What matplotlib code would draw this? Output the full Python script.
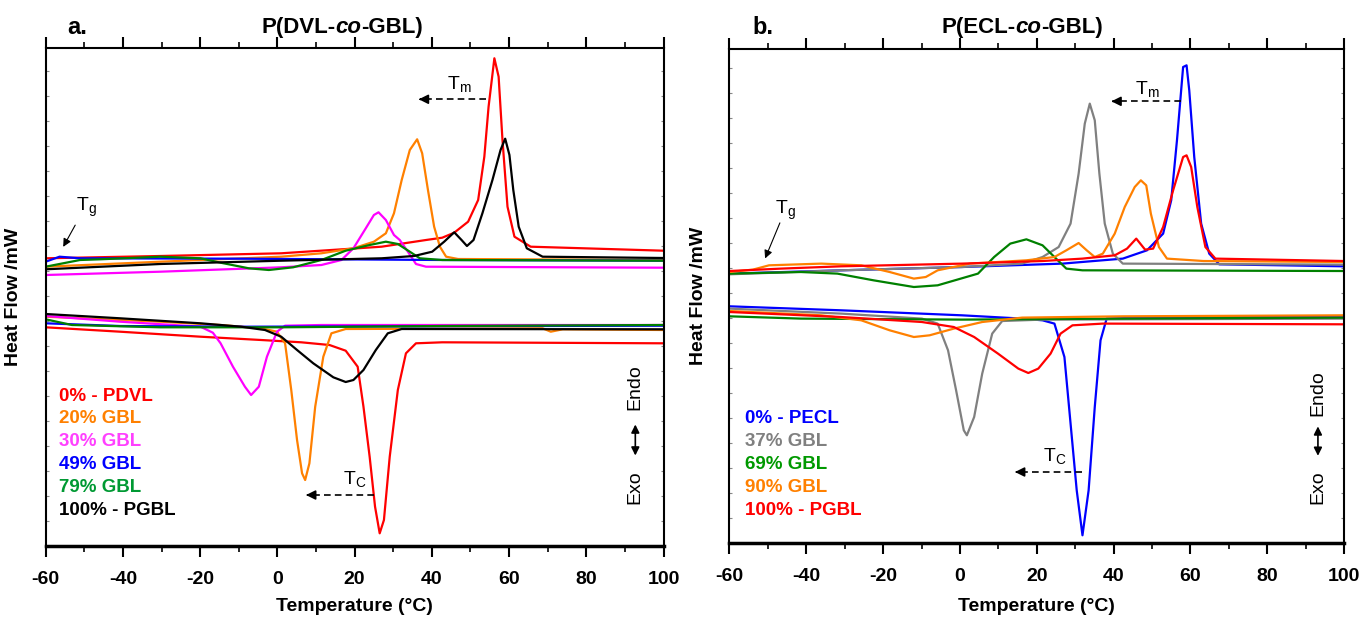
import matplotlib
matplotlib.use('Agg')
import matplotlib.pyplot as plt
import numpy as np

plt.rcParams['font.family'] = ['Liberation Sans', 'DejaVu Sans']
plt.rcParams['axes.unicode_minus'] = False
plt.rcParams['mathtext.fontset'] = 'custom'
plt.rcParams['mathtext.rm'] = 'Liberation Sans'

# ---- panel a: P(DVL-co-GBL), (temperature, heat flow a.u.) ----
a_labels = ['0% - PDVL', '20% GBL', '30% GBL', '49% GBL', '79% GBL', '100% - PGBL']
a_colors = ['#ff0000', '#ff8000', '#ff00ff', '#0000ff', '#008000', '#000000']
a_text_colors = ['#ff0000', '#ff8000', '#ff40ff', '#0000ff', '#009933', '#000000']

a_heat_0 = [(-60, 287.7), (-30.3, 290), (1.0, 292.7), (27.0, 299.3), (38.5, 306), (42.7, 308.3),
            (45.8, 313.3), (49.4, 324.3), (52.0, 346), (53.6, 389.3), (54.7, 439.3), (56.2, 487.7),
            (57.3, 469.3), (58.3, 406), (59.6, 339.3), (61.4, 309.3), (65.6, 299.3), (100, 295.3)]
a_heat_20 = [(-60, 279.3), (-30.3, 284.3), (1.0, 289.3), (11.4, 292.7), (19.7, 297.7), (25.0, 304.3),
             (28.1, 312.7), (30.2, 332.7), (32.2, 366), (34.3, 396), (36.2, 406.7), (37.5, 392.7),
             (39.0, 356), (40.6, 319.3), (42.1, 299.3), (43.7, 289.3), (46.8, 287), (100, 286)]
a_heat_30 = [(-60, 271), (-30.3, 274.3), (1.0, 278.7), (11.4, 281), (16.6, 286), (19.7, 297.7),
             (22.9, 317.7), (25.0, 331), (26.2, 333.7), (28.1, 326), (30.2, 311), (31.7, 306),
             (33.8, 294.3), (35.9, 282), (38.5, 279.3), (100, 278.3)]
a_heat_49 = [(-60, 284.3), (-56.4, 289.3), (-51.1, 287.7), (-9.4, 287.3), (42.7, 286), (100, 285.3)]
a_heat_79 = [(-60, 279.3), (-51.1, 286), (-45.9, 286.7), (-30.3, 289.3), (-19.9, 287.7), (-14.7, 283.3),
             (-7.4, 277.7), (-2.2, 276), (4.1, 278.7), (11.4, 286), (17.7, 295.3), (23.9, 301),
             (28.1, 304.3), (31.2, 302), (34.3, 294.3), (36.9, 287.7), (42.7, 286), (100, 285.3)]
a_heat_100 = [(-60, 276.7), (-30.3, 282), (1.0, 285.3), (27.0, 287.7), (35.4, 290), (40.1, 294.3),
              (43.2, 304.3), (45.8, 313.7), (47.7, 306), (49.1, 300), (50.8, 306), (53.1, 332.7),
              (55.7, 366), (57.8, 396), (59.0, 407.3), (60.1, 391), (61.1, 356), (62.5, 319.3),
              (64.6, 297.7), (68.7, 289.3), (100, 288)]

a_cool_0 = [(-60, 218.7), (-40.7, 214.3), (-19.9, 209.3), (-4.2, 206), (6.2, 203.7), (13.5, 201),
            (17.7, 195.3), (20.8, 179.3), (22.3, 139.3), (23.9, 89.3), (25.3, 39.3), (26.5, 12.7),
            (27.6, 26), (29.1, 89.3), (31.2, 156), (33.3, 192.7), (35.9, 202.7), (42.7, 203.7),
            (100, 202.7)]
a_cool_20 = [(-60, 229.3), (-30.3, 224.3), (-14.7, 221), (-4.2, 217.7), (-0.1, 214.3), (2.0, 202.7),
             (3.6, 156), (5.1, 106), (6.4, 72.7), (7.2, 66), (8.3, 82.7), (9.8, 139.3), (11.9, 189.3),
             (14.0, 212.7), (17.7, 217), (68.7, 217.7), (70.8, 214.3), (73.9, 216.7), (100, 216)]
a_cool_30 = [(-60, 230), (-40.7, 224.3), (-19.9, 219.3), (-16.7, 213.3), (-14.7, 202.7), (-11.5, 179.3),
             (-8.4, 159.3), (-6.8, 151), (-4.8, 159.3), (-2.7, 189.3), (-0.1, 214.3), (2.0, 220.3),
             (11.4, 221), (100, 221)]
a_cool_49 = [(-60, 222.7), (-40.7, 220), (-9.4, 219.3), (100, 220.3)]
a_cool_79 = [(-60, 226.7), (-53.2, 221), (-30.3, 218.7), (1.0, 218.7), (42.7, 220), (100, 221)]
a_cool_100 = [(-60, 232), (-40.7, 227.7), (-19.9, 222.7), (-9.4, 219.3), (-3.2, 216), (1.0, 209.3),
              (5.1, 196), (9.3, 182.7), (14.5, 168.7), (17.7, 164), (19.7, 166), (22.3, 176),
              (25.5, 196), (28.6, 212.7), (32.2, 217), (100, 216.7)]

# ---- panel b: P(ECL-co-GBL) ----
b_labels = ['0% - PECL', '37% GBL', '69% GBL', '90% GBL', '100% - PGBL']
b_colors = ['#0000ff', '#808080', '#008000', '#ff8000', '#ff0000']
b_text_colors = ['#0000ff', '#808080', '#009900', '#ff8000', '#ff0000']

b_heat_0 = [(-60, 269.7), (-30.9, 273), (0.5, 276.3), (26.7, 279.7), (42.4, 284.7), (48.7, 293),
            (52.9, 309.7), (55.0, 343), (56.5, 403), (58.1, 476.3), (59.0, 478), (59.7, 453),
            (61.0, 386.3), (62.8, 319.7), (64.9, 289.7), (67.5, 279), (100, 277)]
b_heat_37 = [(-60, 269), (-30.9, 273), (0.5, 276.3), (16.2, 279.7), (21.5, 286.3), (25.7, 296.3),
             (28.8, 319.7), (30.9, 369.7), (32.5, 419.7), (33.8, 439.7), (35.1, 423), (36.3, 369.7),
             (37.7, 319.7), (39.8, 289.7), (42.4, 279.7), (100, 278.7)]
b_heat_69 = [(-60, 269.7), (-41.4, 271.3), (-31.9, 269.7), (-22.5, 263), (-12.0, 256.3), (-5.8, 258),
             (4.7, 269.7), (8.9, 286.3), (13.1, 299.7), (17.3, 304), (21.5, 298), (24.6, 286.3),
             (27.7, 274.7), (31.9, 273), (100, 272.3)]
b_heat_90 = [(-60, 271.3), (-53.9, 273.7), (-49.7, 278), (-36.1, 279.7), (-25.7, 278), (-18.3, 271.3),
             (-12.0, 264.7), (-8.9, 266.3), (-5.8, 273), (2.6, 279.7), (17.3, 283), (24.6, 286.3),
             (27.7, 293), (30.9, 300.3), (33.0, 293), (35.1, 286.3), (37.2, 289.7), (40.3, 309.7),
             (42.9, 336.3), (45.5, 356.3), (47.1, 363), (48.5, 358), (49.7, 329.7), (51.8, 296.3),
             (53.9, 284.7), (63.4, 282.3), (100, 281.3)]
b_heat_100 = [(-60, 272.3), (-46.6, 274.7), (-30.9, 277), (0.5, 279.7), (21.5, 282.3), (31.9, 284.7),
              (40.3, 288), (43.5, 294.7), (45.9, 304.7), (48.2, 293.7), (50.3, 294.7), (52.9, 316.3),
              (55.5, 353), (58.1, 386.3), (59.0, 388), (60.2, 376.3), (61.8, 336.3), (63.9, 296.3),
              (66.5, 284.7), (100, 282.3)]

b_cool_0 = [(-60, 237), (-30.9, 233), (0.5, 228), (16.2, 224.7), (21.5, 223), (24.6, 219.7),
            (27.2, 186.3), (28.8, 119.7), (30.4, 53), (31.9, 8), (33.5, 53), (35.1, 136.3),
            (36.6, 203), (38.2, 224.7), (52.9, 226.3), (100, 227)]
b_cool_37 = [(-60, 234.7), (-30.9, 229.7), (-9.9, 224.7), (-5.8, 219.7), (-3.1, 193), (-1.0, 153),
             (1.0, 113), (1.8, 108), (3.7, 126.3), (5.8, 169.7), (8.4, 209.7), (11.0, 222.3),
             (21.5, 223.7), (100, 224.7)]
b_cool_69 = [(-60, 227), (-41.4, 224.7), (0.5, 223.7), (42.4, 224.7), (100, 225.7)]
b_cool_90 = [(-60, 232.3), (-36.1, 228), (-25.7, 223), (-18.3, 213), (-12.0, 206.3), (-7.9, 208),
             (-1.6, 214.7), (5.8, 221.3), (16.2, 225.7), (42.4, 227), (100, 228)]
b_cool_100 = [(-60, 231.3), (-30.9, 226.3), (-9.9, 221.3), (-1.6, 216.3), (3.7, 206.3), (9.9, 189.7),
              (15.2, 174.7), (17.8, 170.3), (20.4, 174.7), (23.6, 189.7), (26.2, 209.7), (29.3, 218),
              (37.2, 219.7), (100, 219)]

x_ticks = [-60, -40, -20, 0, 20, 40, 60, 80, 100]


def style_axes(ax, ytop):
    ax.set_xlim(-60, 100)
    ax.set_ylim(0, ytop)
    ax.set_xticks(x_ticks)
    ax.set_xticks(np.arange(-50, 100, 20), minor=True)
    ax.set_xticklabels([str(t) for t in x_ticks], fontweight='bold', fontsize=14)
    ax.tick_params(axis='x', which='major', direction='out', length=8, width=1.5, pad=10)
    ax.tick_params(axis='x', which='minor', direction='out', length=4, width=1.2)
    ax.tick_params(axis='x', which='both', top=True)
    ax.set_yticks(np.arange(25, ytop, 25))
    ax.tick_params(axis='y', direction='in', length=2, width=0.8, color='#888888',
                   left=True, right=True, labelleft=False)
    for side in ['left', 'right', 'top']:
        ax.spines[side].set_linewidth(1.5)
    ax.spines['bottom'].set_linewidth(2.5)
    ax.set_xlabel('Temperature (°C)', fontweight='bold', fontsize=14)
    ax.set_ylabel('Heat Flow /mW', fontweight='bold', fontsize=14)


def draw_curves(ax, curves, colors):
    for curve, c in zip(curves, colors):
        t, y = zip(*curve)
        ax.plot(t, y, color=c, lw=1.6)


def dashed_arrow(ax, x0, x1, y):
    ax.plot([x0, x1 + 1.5], [y, y], color='k', lw=1.2, ls=(0, (4, 2.5)))
    ax.annotate('', xy=(x1, y), xytext=(x1 + 2, y),
                arrowprops=dict(arrowstyle='-|>', color='k', lw=1.2, mutation_scale=14))


def exo_endo(ax, x, y_exo, y_endo, y_a0, y_a1):
    ax.text(x, y_endo, 'Endo', rotation=90, ha='center', va='center', fontsize=14)
    ax.text(x, y_exo, 'Exo', rotation=90, ha='center', va='center', fontsize=14)
    ax.annotate('', xy=(x, y_a1), xytext=(x, y_a0),
                arrowprops=dict(arrowstyle='<|-|>', color='k', lw=1.2, mutation_scale=12))


def mixed_title(fig, xc, y, parts, size):
    texts = [fig.text(0, y, s, fontsize=size, fontweight='bold', style=st, va='center')
             for s, st in parts]
    fig.canvas.draw()
    r = fig.canvas.get_renderer()
    w = [t.get_window_extent(r).width for t in texts]
    W = fig.get_figwidth() * fig.dpi
    x = xc * W - sum(w) / 2
    for t, wi in zip(texts, w):
        t.set_x(x / W)
        x += wi


fig = plt.figure(figsize=(13.63, 6.19), dpi=100)
ax1 = fig.add_axes([0.0335, 0.1179, 0.4533, 0.8041])
ax2 = fig.add_axes([0.5352, 0.1223, 0.4509, 0.7993])

# panel a
draw_curves(ax1, [a_heat_0, a_heat_20, a_heat_30, a_heat_49, a_heat_79, a_heat_100], a_colors)
draw_curves(ax1, [a_cool_0, a_cool_20, a_cool_30, a_cool_49, a_cool_79, a_cool_100], a_colors)
style_axes(ax1, 497.7)
ax1.yaxis.set_label_coords(-0.038, 0.5)
ax1.xaxis.set_label_coords(0.5, -0.104)

ax1.text(47.0, 461, r'T$_\mathregular{m}$', fontsize=14, ha='center', va='center')
dashed_arrow(ax1, 54.1, 35.9, 446.7)
ax1.text(-49.5, 339, r'T$_\mathregular{g}$', fontsize=14, ha='center', va='center')
ax1.annotate('', xy=(-55.8, 296.7), xytext=(-52.0, 323.3),
             arrowprops=dict(arrowstyle='-|>', color='k', lw=0.8, mutation_scale=12))
ax1.text(20.0, 66, r'T$_\mathregular{C}$', fontsize=14, ha='center', va='center')
dashed_arrow(ax1, 25.0, 6.7, 51)
for i, (lab, c) in enumerate(zip(a_labels, a_text_colors)):
    ax1.text(-56.6, 150 - 22.8 * i, lab, color=c, fontsize=13.5, fontweight='bold', va='center')
exo_endo(ax1, 92.7, 59.3, 159.3, 124.3, 87.7)

# panel b
draw_curves(ax2, [b_heat_0, b_heat_37, b_heat_69, b_heat_90, b_heat_100], b_colors)
draw_curves(ax2, [b_cool_0, b_cool_37, b_cool_69, b_cool_90, b_cool_100], b_colors)
style_axes(ax2, 494.8)
ax2.yaxis.set_label_coords(-0.0366, 0.5)
ax2.xaxis.set_label_coords(0.5, -0.1106)

ax2.text(48.7, 453, r'T$_\mathregular{m}$', fontsize=14, ha='center', va='center')
dashed_arrow(ax2, 57.6, 38.7, 442)
ax2.text(-45.4, 333, r'T$_\mathregular{g}$', fontsize=14, ha='center', va='center')
ax2.annotate('', xy=(-51.0, 282.3), xytext=(-46.6, 323),
             arrowprops=dict(arrowstyle='-|>', color='k', lw=0.8, mutation_scale=12))
ax2.text(24.6, 86, r'T$_\mathregular{C}$', fontsize=14, ha='center', va='center')
dashed_arrow(ax2, 31.9, 13.6, 71.3)
for i, (lab, c) in enumerate(zip(b_labels, b_text_colors)):
    ax2.text(-56.0, 124.7 - 22.9 * i, lab, color=c, fontsize=13.5, fontweight='bold', va='center')
exo_endo(ax2, 93.2, 56, 150, 119.7, 84.7)

# panel letters and titles
fig.text(0.0565, 0.955, 'a.', fontsize=17, fontweight='bold', ha='center', va='center')
fig.text(0.560, 0.955, 'b.', fontsize=17, fontweight='bold', ha='center', va='center')
mixed_title(fig, 0.251, 0.955, [('P(DVL-', 'normal'), ('co', 'italic'), ('-GBL)', 'normal')], 16)
mixed_title(fig, 0.750, 0.955, [('P(ECL-', 'normal'), ('co', 'italic'), ('-GBL)', 'normal')], 16)

fig.savefig('out.png', dpi=100)
